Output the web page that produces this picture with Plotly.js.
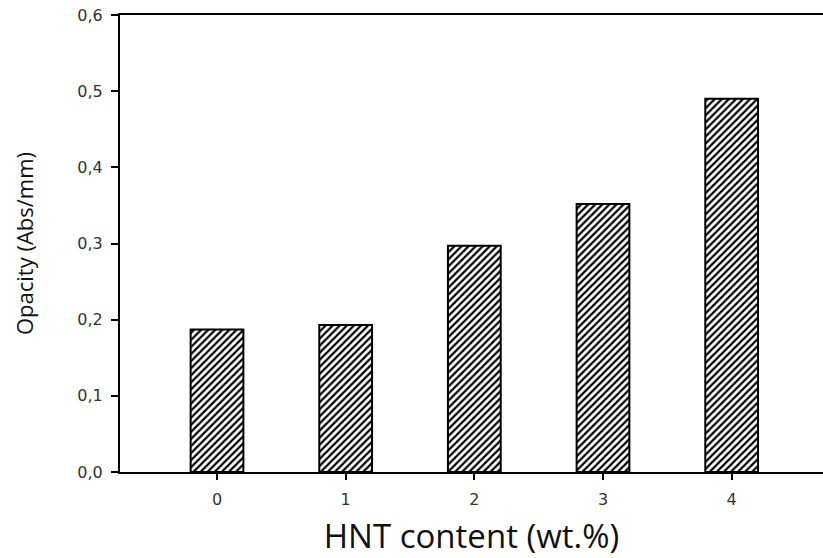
<!DOCTYPE html>
<html><head><meta charset="utf-8">
<script src="https://cdn.plot.ly/plotly-3.0.1.min.js"></script>
<style>html,body{margin:0;padding:0;background:#fff;}</style>
</head><body>
<div id="chart" style="width:823px;height:558px;"></div>
<script>
const categories = [0, 1, 2, 3, 4];
const opacity = [0.187, 0.193, 0.297, 0.352, 0.490];
const yTicks = [0, 0.1, 0.2, 0.3, 0.4, 0.5, 0.6];

const tickFont = {family: 'DejaVu Sans, sans-serif', size: 16, color: '#333'};

const trace = {
  type: 'bar',
  x: categories,
  y: opacity,
  width: 0.41,
  marker: {
    color: 'white',
    line: {color: '#000', width: 2},
    pattern: {shape: '/', fgcolor: '#000', bgcolor: '#fff', size: 5, solidity: 0.45}
  },
  hoverinfo: 'skip'
};

const layout = {
  width: 823, height: 558,
  font: tickFont,
  margin: {l: 120, r: 0, t: 15, b: 86},
  paper_bgcolor: '#fff', plot_bgcolor: '#fff',
  separators: ', ',
  showlegend: false,
  xaxis: {
    range: [-0.754, 4.71],
    tickmode: 'array',
    tickvals: categories,
    ticktext: categories.map(String),
    ticks: 'outside', ticklen: 6, tickwidth: 2, tickcolor: '#000',
    ticklabelstandoff: 6,
    showline: true, linecolor: '#000', linewidth: 2, mirror: true,
    showgrid: false, zeroline: false,
    tickfont: tickFont,
    title: {text: 'HNT content (wt.%)', font: {family: 'Open Sans, sans-serif', size: 33, color: '#111'}, standoff: 20}
  },
  yaxis: {
    range: [0, 0.6],
    tickmode: 'array',
    tickvals: yTicks,
    tickformat: '.1f',
    ticks: 'outside', ticklen: 7, tickwidth: 2, tickcolor: '#000',
    ticklabelstandoff: 5,
    showline: true, linecolor: '#000', linewidth: 2, mirror: false,
    showgrid: false, zeroline: false,
    tickfont: tickFont,
    title: {text: 'Opacity (Abs/mm)', font: {family: 'Open Sans, sans-serif', size: 22, color: '#111'}, standoff: 38}
  }
};

Plotly.newPlot('chart', [trace], layout, {displayModeBar: false, staticPlot: true});
</script>
</body></html>
